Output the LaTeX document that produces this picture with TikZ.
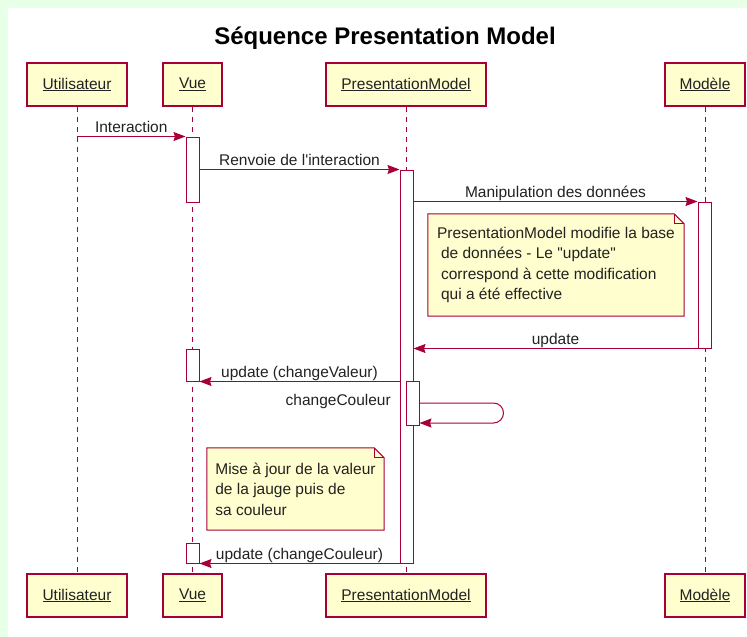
\documentclass[tikz,border=0pt]{standalone}
\usepackage{fontspec}
\setmainfont{Liberation Sans}
\usepackage{tikz}
\usetikzlibrary{arrows.meta,calc}
\definecolor{seqLine}{HTML}{A80036}
\definecolor{seqFill}{HTML}{FEFECE}
\definecolor{seqBack}{HTML}{E8FFE8}
\definecolor{seqText}{HTML}{222222}
\tikzset{
    % participant boxes and lifelines
    participant/.style={rectangle,draw=seqLine,fill=seqFill,line width=1.2pt,inner sep=0pt,minimum height=43pt,text=seqText,font=\fontsize{15.5}{18}\selectfont},
    lifeline/.style={draw=seqLine,line width=1pt,dash pattern=on 5pt off 5pt},
    activation/.style={rectangle,draw=seqLine,fill=white,line width=1pt,minimum width=13pt,inner sep=0pt},
    % messages
    msg/.style={draw=seqLine,line width=1pt,-{Stealth[length=12pt,width=9pt,inset=1.5pt]}},
    msglabel/.style={font=\fontsize{15.5}{18}\selectfont,text=seqText,inner sep=0pt,anchor=base,yshift=4pt},
    % notes
    notebox/.style={rectangle,fill=seqFill,inner xsep=6pt,inner ysep=0pt,align=left,text=seqText,font=\fontsize{15.5}{20.5}\selectfont},
    noteline/.style={draw=seqLine,line width=1pt}
}

\begin{document}
\begin{tikzpicture}[x=1pt,y=-1pt]
    % Background
    \fill[seqBack] (0,0) rectangle (747,637);
    \fill[white] (8,8) rectangle (747,637);
    \useasboundingbox (0,0) rectangle (747,637);

    % Title
    \node[font=\bfseries\fontsize{24}{28}\selectfont] (title) at (385,38) {Séquence Presentation Model};

    % Participants (top and bottom)
    \node[participant,minimum width=100pt] (utilT) at (77,84.5) {\underline{Utilisateur}};
    \node[participant,minimum width=59pt] (vueT) at (192.5,84.5) {\underline{Vue}};
    \node[participant,minimum width=160pt] (pmT) at (406,84.5) {\underline{PresentationModel}};
    \node[participant,minimum width=80pt] (modT) at (705,84.5) {\underline{Modèle}};
    \node[participant,minimum width=100pt] (utilB) at (77,595.5) {\underline{Utilisateur}};
    \node[participant,minimum width=59pt] (vueB) at (192.5,595.5) {\underline{Vue}};
    \node[participant,minimum width=160pt] (pmB) at (406,595.5) {\underline{PresentationModel}};
    \node[participant,minimum width=80pt] (modB) at (705,595.5) {\underline{Modèle}};

    % Lifelines
    \draw[lifeline] (utilT) -- (utilB);
    \draw[lifeline] (vueT) -- (vueB);
    \draw[lifeline] (pmT) -- (pmB);
    \draw[lifeline] (modT) -- (modB);

    % Activation bars
    \node[activation,minimum height=65pt] (vueA1) at (192.5,169.5) {};
    \node[activation,minimum height=393pt] (pmA) at (406.5,366.5) {};
    \node[activation,minimum height=146pt] (modA) at (704.5,275) {};
    \node[activation,minimum height=32pt] (vueA2) at (192.5,365) {};
    \node[activation,minimum height=44pt] (pmA2) at (412.5,403) {};
    \node[activation,minimum height=20pt] (vueA3) at (192.5,553) {};

    % Messages
    \draw[msg] (utilT |- vueA1.north) -- (vueA1.north west) node[msglabel,midway] {Interaction};
    \draw[msg] (vueA1.north east |- pmA.north) -- (pmA.north west) node[msglabel,midway] {Renvoie de l\textquotesingle interaction};
    \draw[msg] (pmA.north east |- modA.north) -- (modA.north west) node[msglabel,midway] {Manipulation des données};
    \draw[msg] (modA.south west) -- (pmA.east |- modA.south) node[msglabel,midway] {update};
    \draw[msg] (pmA.west |- vueA2.south) -- (vueA2.south east) node[msglabel,midway] {update (changeValeur)};
    \draw[msg,rounded corners=10pt] (pmA2.east) -- ++(84,0) -- ++(0,20) -- ([yshift=-20pt]pmA2.east);
    \node[msglabel,anchor=base east,yshift=0pt] (selfLabel) at (391,409) {changeCouleur};
    \draw[msg] (pmA.south west) -- (vueA3.south east) node[msglabel,midway] {update (changeCouleur)};

    % Notes
    \node[notebox,minimum width=256pt,minimum height=102pt] (note1) at (556,265)
        {PresentationModel modifie la base\\\hspace*{4pt}de données - Le \textquotedbl update\textquotedbl\\\hspace*{4pt}correspond à cette modification\\\hspace*{4pt}qui a été effective};
    \fill[white] ([xshift=-10pt]note1.north east) -- (note1.north east) -- ([yshift=-10pt]note1.north east) -- cycle;
    \draw[noteline] (note1.north west) -- ([xshift=-10pt]note1.north east) -- ([yshift=-10pt]note1.north east) -- (note1.south east) -- (note1.south west) -- cycle;
    \draw[noteline] ([xshift=-10pt]note1.north east) |- ([yshift=-10pt]note1.north east);

    \node[notebox,minimum width=177pt,minimum height=82pt] (note2) at (295.5,489)
        {Mise à jour de la valeur\\de la jauge puis de\\sa couleur};
    \fill[white] ([xshift=-10pt]note2.north east) -- (note2.north east) -- ([yshift=-10pt]note2.north east) -- cycle;
    \draw[noteline] (note2.north west) -- ([xshift=-10pt]note2.north east) -- ([yshift=-10pt]note2.north east) -- (note2.south east) -- (note2.south west) -- cycle;
    \draw[noteline] ([xshift=-10pt]note2.north east) |- ([yshift=-10pt]note2.north east);
\end{tikzpicture}
\end{document}
